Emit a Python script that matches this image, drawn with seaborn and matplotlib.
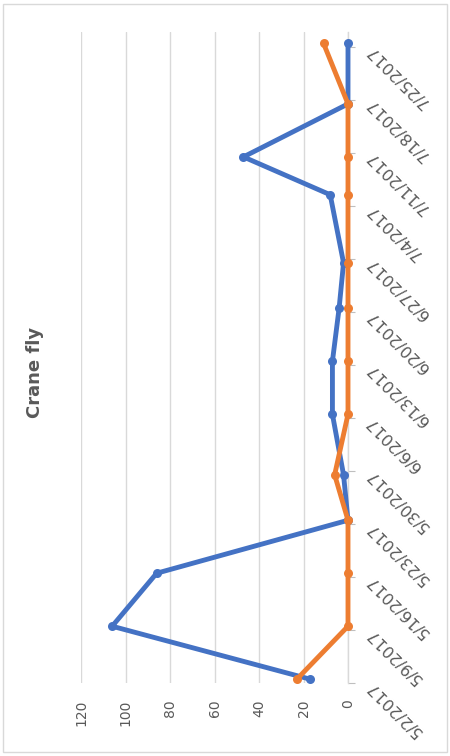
import matplotlib
matplotlib.use("Agg")
import matplotlib.pyplot as plt
import matplotlib.patches as mpatches
import pandas as pd
import seaborn as sns

# Sampling dates and weekly counts for the two traps
sample_dates = ["2017-05-02", "2017-05-09", "2017-05-16", "2017-05-23", "2017-05-29",
                "2017-06-06", "2017-06-13", "2017-06-20", "2017-06-26", "2017-07-05",
                "2017-07-10", "2017-07-17", "2017-07-25"]
counts_a = [17, 106, 86, 0, 2, 7, 7, 4, 2, 8, 47, 0, 0]
counts_b = [23, 0, 0, 0, 6, 0, 0, 0, 0, 0, 0, 0, 11]

# Weekly axis labels
week_labels = ["5/2/2017", "5/9/2017", "5/16/2017", "5/23/2017", "5/30/2017",
               "6/6/2017", "6/13/2017", "6/20/2017", "6/27/2017", "7/4/2017",
               "7/11/2017", "7/18/2017", "7/25/2017"]
value_ticks = [0, 20, 40, 60, 80, 100, 120]

title = "Crane fly"
colors = ["#4472C4", "#ED7D31"]

start = pd.Timestamp("2017-05-02")
days = [(pd.Timestamp(d) - start).days + 0.5 for d in sample_dates]

df = pd.DataFrame({
    "day": days * 2,
    "count": counts_a + counts_b,
    "trap": ["A"] * len(days) + ["B"] * len(days),
})

sns.set_theme(style="white")
plt.rcParams["font.family"] = ["DejaVu Sans"]

fig = plt.figure(figsize=(4.5, 7.56), dpi=100)
ax = fig.add_axes([81 / 450, (756 - 683) / 756, (348 - 81) / 450, (683 - 32) / 756])

# Chart-area frame
fig.patches.append(mpatches.Rectangle((3 / 450, 4 / 756), 444 / 450, 748 / 756,
                                      transform=fig.transFigure, fill=False,
                                      edgecolor="#D9D9D9", linewidth=1.0))

sns.lineplot(data=df, x="count", y="day", hue="trap", palette=colors, orient="y",
             marker="o", markersize=6.5, markeredgewidth=0, linewidth=3.5,
             legend=False, ax=ax)
for line in ax.lines:
    line.set_clip_on(False)
    line.set_zorder(3)

ax.set_xlim(120, 0)
ax.set_ylim(0, 86)
ax.set_xticks(value_ticks)
ax.set_xticklabels([str(v) for v in value_ticks], rotation=90, color="#595959", fontsize=10)
ax.tick_params(axis="x", length=0, pad=12)

ax.set_yticks([7 * i for i in range(len(week_labels))])
ax.yaxis.tick_right()
ax.set_yticklabels(week_labels, rotation=135, rotation_mode="anchor",
                   ha="right", va="center", color="#595959", fontsize=11.5)
ax.tick_params(axis="y", length=5, width=0.8, color="#BFBFBF", pad=10, direction="out")

ax.grid(axis="x", color="#D9D9D9", linewidth=1.0)
ax.grid(axis="y", visible=False)
for side in ["top", "bottom", "left"]:
    ax.spines[side].set_visible(False)
ax.spines["right"].set_color("#D9D9D9")
ax.spines["right"].set_linewidth(1.0)
ax.set_xlabel("")
ax.set_ylabel("")

fig.text(35 / 450, 1 - 372 / 756, title, rotation=90, ha="center", va="center",
         fontsize=13, fontweight="bold", color="#595959")

fig.savefig("out.png", dpi=100)
